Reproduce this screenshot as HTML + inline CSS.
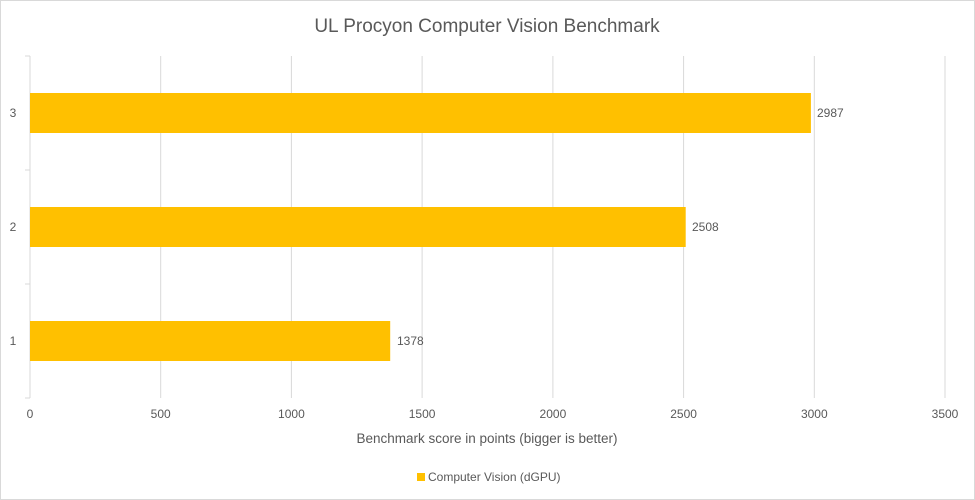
<!DOCTYPE html>
<html><head><style>body{margin:0;background:#fff}svg{display:block}text{font-family:"Liberation Sans",sans-serif;fill:#595959}</style></head>
<body>
<svg width="975" height="500" xmlns="http://www.w3.org/2000/svg">
<rect x="0.5" y="0.5" width="974" height="499" fill="#fff" stroke="#d9d9d9"/>
<text x="487" y="32" text-anchor="middle" font-size="19">UL Procyon Computer Vision Benchmark</text>
<g stroke="#d9d9d9" stroke-width="1">
<line x1="160.7" y1="56" x2="160.7" y2="398"/>
<line x1="291.4" y1="56" x2="291.4" y2="398"/>
<line x1="422.1" y1="56" x2="422.1" y2="398"/>
<line x1="552.9" y1="56" x2="552.9" y2="398"/>
<line x1="683.6" y1="56" x2="683.6" y2="398"/>
<line x1="814.3" y1="56" x2="814.3" y2="398"/>
<line x1="945" y1="56" x2="945" y2="398"/>
<line x1="30" y1="56" x2="30" y2="398"/>
<line x1="25" y1="56" x2="30" y2="56"/>
<line x1="25" y1="170" x2="30" y2="170"/>
<line x1="25" y1="284" x2="30" y2="284"/>
<line x1="25" y1="398" x2="30" y2="398"/>
</g>
<rect x="30" y="93" width="780.9" height="40" fill="#ffc000"/>
<rect x="30" y="207" width="655.7" height="40" fill="#ffc000"/>
<rect x="30" y="321" width="360.2" height="40" fill="#ffc000"/>
<g font-size="12">
<text x="817" y="117">2987</text>
<text x="692" y="231">2508</text>
<text x="397" y="345">1378</text>
<text x="13" y="117" text-anchor="middle">3</text>
<text x="13" y="231" text-anchor="middle">2</text>
<text x="13" y="345" text-anchor="middle">1</text>
</g>
<g font-size="12" text-anchor="middle">
<text x="30" y="418">0</text>
<text x="160.7" y="418">500</text>
<text x="291.4" y="418">1000</text>
<text x="422.1" y="418">1500</text>
<text x="552.9" y="418">2000</text>
<text x="683.6" y="418">2500</text>
<text x="814.3" y="418">3000</text>
<text x="945" y="418">3500</text>
</g>
<text x="487" y="443" text-anchor="middle" font-size="13.5">Benchmark score in points (bigger is better)</text>
<rect x="417" y="473" width="8" height="8" fill="#ffc000"/>
<text x="428" y="481" font-size="12">Computer Vision (dGPU)</text>
</svg>
</body></html>
